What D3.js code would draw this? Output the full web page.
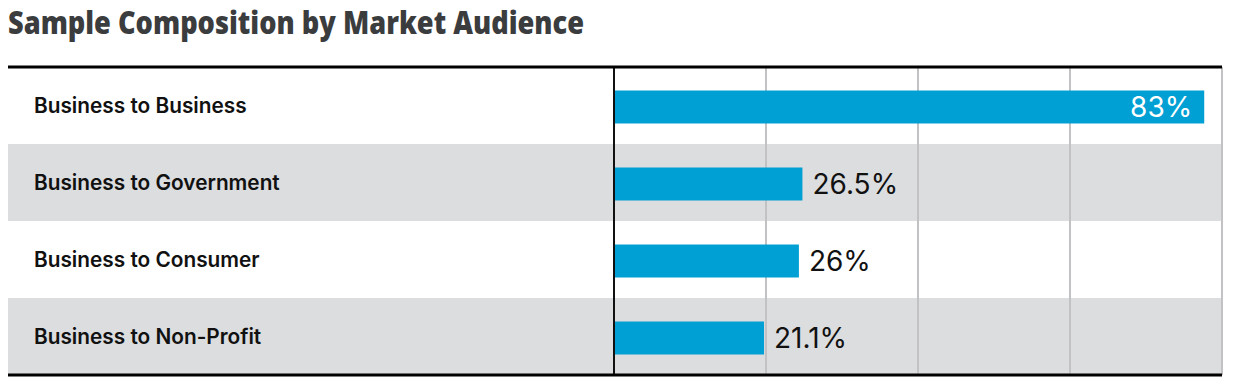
<!DOCTYPE html>
<html>
<head>
<meta charset="utf-8">
<script src="https://cdn.jsdelivr.net/npm/d3@7"></script>
<style>
body { margin: 0; background: #fff; }
svg { display: block; }
</style>
</head>
<body>
<script>
var categories = ["Business to Business", "Business to Government", "Business to Consumer", "Business to Non-Profit"];
var values = [83, 26.5, 26, 21.1];
var valueLabels = ["83%", "26.5%", "26%", "21.1%"];
var gridValues = [21.375, 42.75, 64.125, 85.5];

var width = 1235, height = 391;
var plotLeft = 8, plotRight = 1222, plotTop = 67, plotBottom = 375;
var axisX = 614;

var svg = d3.select("body").append("svg").attr("width", width).attr("height", height);

svg.append("text")
    .attr("x", 8).attr("y", 34)
    .attr("font-family", "Open Sans, sans-serif")
    .attr("font-weight", 800)
    .attr("font-size", 31)
    .attr("fill", "#3b3c3e")
    .attr("textLength", 576)
    .attr("lengthAdjust", "spacingAndGlyphs")
    .text("Sample Composition by Market Audience");

var x = d3.scaleLinear().domain([0, 85.5]).range([axisX, plotRight]);
var y = d3.scaleBand().domain(categories).range([plotTop, plotBottom]);

// row backgrounds
svg.append("g").selectAll("rect")
    .data(categories)
    .enter().append("rect")
        .attr("x", plotLeft)
        .attr("y", function(d){ return y(d); })
        .attr("width", plotRight - plotLeft)
        .attr("height", y.bandwidth())
        .attr("fill", function(d, i){ return i % 2 ? "#dcdddf" : "#fff"; });

// grid lines
svg.append("g").selectAll("line")
    .data(gridValues)
    .enter().append("line")
        .attr("x1", function(d){ return x(d); })
        .attr("x2", function(d){ return x(d); })
        .attr("y1", plotTop).attr("y2", plotBottom)
        .attr("stroke", "#c2c2c4")
        .attr("stroke-width", 2);

// bars
svg.append("g").selectAll("rect")
    .data(values)
    .enter().append("rect")
        .attr("x", axisX)
        .attr("y", function(d, i){ return y(categories[i]) + y.bandwidth() / 2 - 15; })
        .attr("width", function(d){ return x(d) - axisX; })
        .attr("height", 33)
        .attr("fill", "#00a0d4");

// value labels
svg.append("g").selectAll("text")
    .data(values)
    .enter().append("text")
        .attr("x", function(d){ return d > 50 ? x(d) - 12 : x(d) + 10; })
        .attr("y", function(d, i){ return y(categories[i]) + y.bandwidth() / 2 + 11; })
        .attr("text-anchor", function(d){ return d > 50 ? "end" : "start"; })
        .attr("font-family", "Inter, sans-serif")
        .attr("font-size", 28)
        .attr("fill", function(d){ return d > 50 ? "#fff" : "#111"; })
        .text(function(d, i){ return valueLabels[i]; });

// category labels
svg.append("g").selectAll("text")
    .data(categories)
    .enter().append("text")
        .attr("x", 34)
        .attr("y", function(d){ return y(d) + y.bandwidth() / 2 + 7; })
        .attr("font-family", "Inter, sans-serif")
        .attr("font-weight", 600)
        .attr("font-size", 20.8)
        .attr("fill", "#111")
        .text(function(d){ return d; });

// axis line
svg.append("line")
    .attr("x1", axisX).attr("x2", axisX)
    .attr("y1", plotTop).attr("y2", plotBottom)
    .attr("stroke", "#111").attr("stroke-width", 2);

// top and bottom rules
svg.append("line")
    .attr("x1", plotLeft).attr("x2", plotRight)
    .attr("y1", plotTop).attr("y2", plotTop)
    .attr("stroke", "#000").attr("stroke-width", 3);
svg.append("line")
    .attr("x1", plotLeft).attr("x2", plotRight)
    .attr("y1", plotBottom).attr("y2", plotBottom)
    .attr("stroke", "#000").attr("stroke-width", 3);
</script>
</body>
</html>
